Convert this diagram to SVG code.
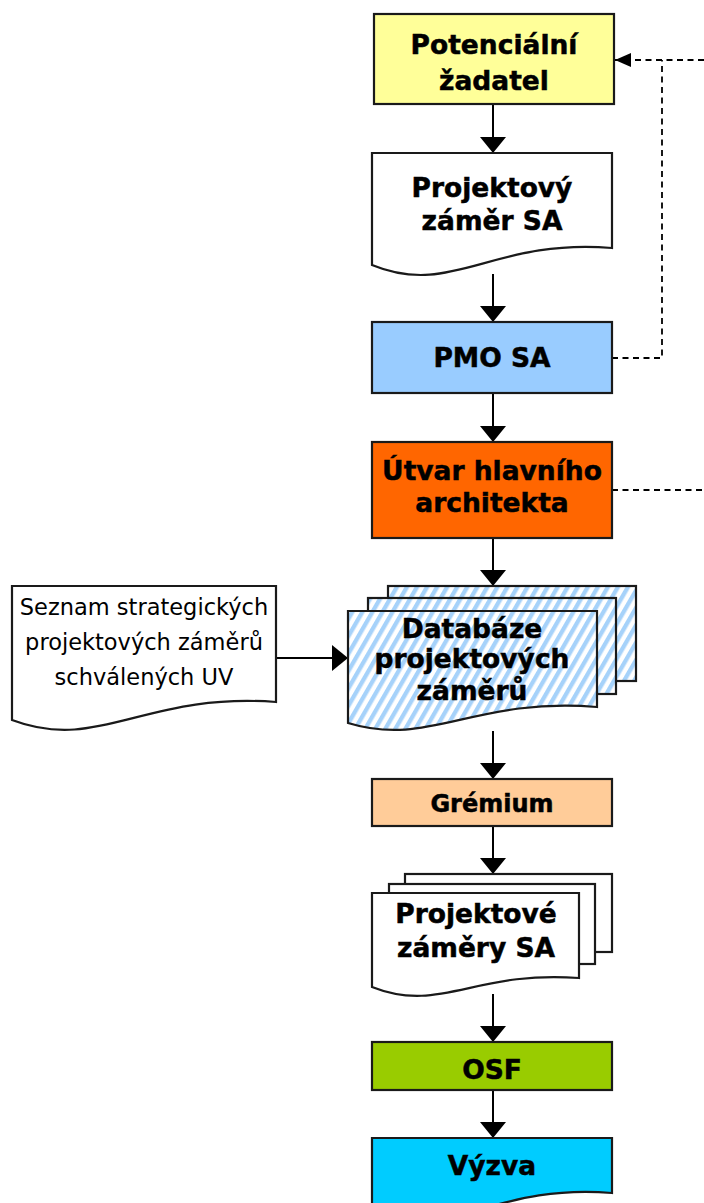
<svg xmlns="http://www.w3.org/2000/svg" width="704" height="1203" viewBox="0 0 704 1203">
<style>
.box{stroke:#1a1a1a;stroke-width:2.2}
.t{font-family:"DejaVu Sans","Verdana",sans-serif;font-weight:bold;font-size:26.5px;fill:#000;stroke:#000;stroke-width:0.5;text-anchor:middle}
.n{font-family:"DejaVu Sans","Verdana",sans-serif;font-size:22.5px;fill:#000;text-anchor:middle}
.ar{stroke:#000;stroke-width:2;fill:none;marker-end:url(#ah)}
.da{stroke:#000;stroke-width:1.8;fill:none;stroke-dasharray:6 4.5}
</style>
<defs>
<marker id="ah" markerUnits="userSpaceOnUse" markerWidth="16" markerHeight="26" refX="16" refY="13" orient="auto">
<path d="M0,0 L16,13 L0,26 Z" fill="#000"/>
</marker>
<marker id="dh" markerUnits="userSpaceOnUse" markerWidth="16" markerHeight="14" refX="16" refY="7" orient="auto">
<path d="M0,0 L16,7 L0,14 Z" fill="#000"/>
</marker>
<pattern id="stripe" patternUnits="userSpaceOnUse" width="8.7" height="20" patternTransform="rotate(30)">
<rect width="8.7" height="20" fill="#fff"/>
<rect width="4.3" height="20" fill="#a6d2fa"/>
</pattern>
</defs>

<g id="connectors">
<line class="ar" x1="493" y1="104" x2="493" y2="153"/>
<line class="ar" x1="493" y1="274" x2="493" y2="322"/>
<line class="ar" x1="493" y1="393" x2="493" y2="442"/>
<line class="ar" x1="493" y1="538" x2="493" y2="586"/>
<line class="ar" x1="493" y1="731" x2="493" y2="779"/>
<line class="ar" x1="493" y1="826" x2="493" y2="874"/>
<line class="ar" x1="493" y1="994" x2="493" y2="1042"/>
<line class="ar" x1="493" y1="1090" x2="493" y2="1138"/>
<line class="ar" x1="276" y1="658" x2="348" y2="658"/>
<polyline class="da" points="612,358 662,358 662,60"/>
<line class="da" x1="704" y1="60" x2="615" y2="60" marker-end="url(#dh)"/>
<line class="da" x1="612" y1="490" x2="704" y2="490"/>
</g>

<g id="potencialni-zadatel">
<rect class="box" x="374" y="14" width="240" height="90" fill="#ffff99"/>
<text class="t" x="494" y="54">Potenciální</text>
<text class="t" x="494" y="90">žadatel</text>
</g>

<g id="projektovy-zamer">
<path class="box" fill="#fff" d="M372,153 H612 V248 C492,238 452,298 372,265 Z"/>
<text class="t" x="492" y="197">Projektový</text>
<text class="t" x="492" y="230">záměr SA</text>
</g>

<g id="pmo-sa">
<rect class="box" x="372" y="322" width="240" height="71" fill="#99ccff"/>
<text class="t" x="492" y="367">PMO SA</text>
</g>

<g id="utvar-hlavniho-architekta">
<rect class="box" x="372" y="442" width="240" height="96" fill="#ff6600"/>
<text class="t" x="492" y="480">Útvar hlavního</text>
<text class="t" x="492" y="512">architekta</text>
</g>

<g id="seznam">
<path class="box" fill="#fff" d="M12,586 H276 V702 C144,692 99,753 12,720 Z"/>
<text class="n" x="144" y="615">Seznam strategických</text>
<text class="n" x="144" y="650">projektových záměrů</text>
<text class="n" x="144" y="685">schválených UV</text>
</g>

<g id="databaze">
<rect class="box" x="388" y="586" width="248" height="95" fill="url(#stripe)"/>
<rect class="box" x="368" y="598" width="248" height="96" fill="url(#stripe)"/>
<path class="box" fill="url(#stripe)" d="M348,611 H597 V707 C472,697 430,748 348,723 Z"/>
<text class="t" x="472" y="638">Databáze</text>
<text class="t" x="472" y="668">projektových</text>
<text class="t" x="472" y="700">záměrů</text>
</g>

<g id="gremium">
<rect class="box" x="372" y="779" width="240" height="47" fill="#ffcc99"/>
<text class="t" x="492" y="812" style="font-size:24px">Grémium</text>
</g>

<g id="projektove-zamery">
<rect class="box" x="405" y="874" width="207" height="78" fill="#fff"/>
<rect class="box" x="389" y="884" width="206" height="80" fill="#fff"/>
<path class="box" fill="#fff" d="M372,893 H579 V978 C475,970 440,1014 372,987 Z"/>
<text class="t" x="476" y="923">Projektové</text>
<text class="t" x="476" y="957">záměry SA</text>
</g>

<g id="osf">
<rect class="box" x="372" y="1042" width="240" height="48" fill="#99cc00"/>
<text class="t" x="492" y="1079">OSF</text>
</g>

<g id="vyzva">
<path class="box" fill="#00ccff" d="M372,1138 H612 V1193 C492,1183 451,1243 372,1210 Z"/>
<text class="t" x="492" y="1175">Výzva</text>
</g>
</svg>
